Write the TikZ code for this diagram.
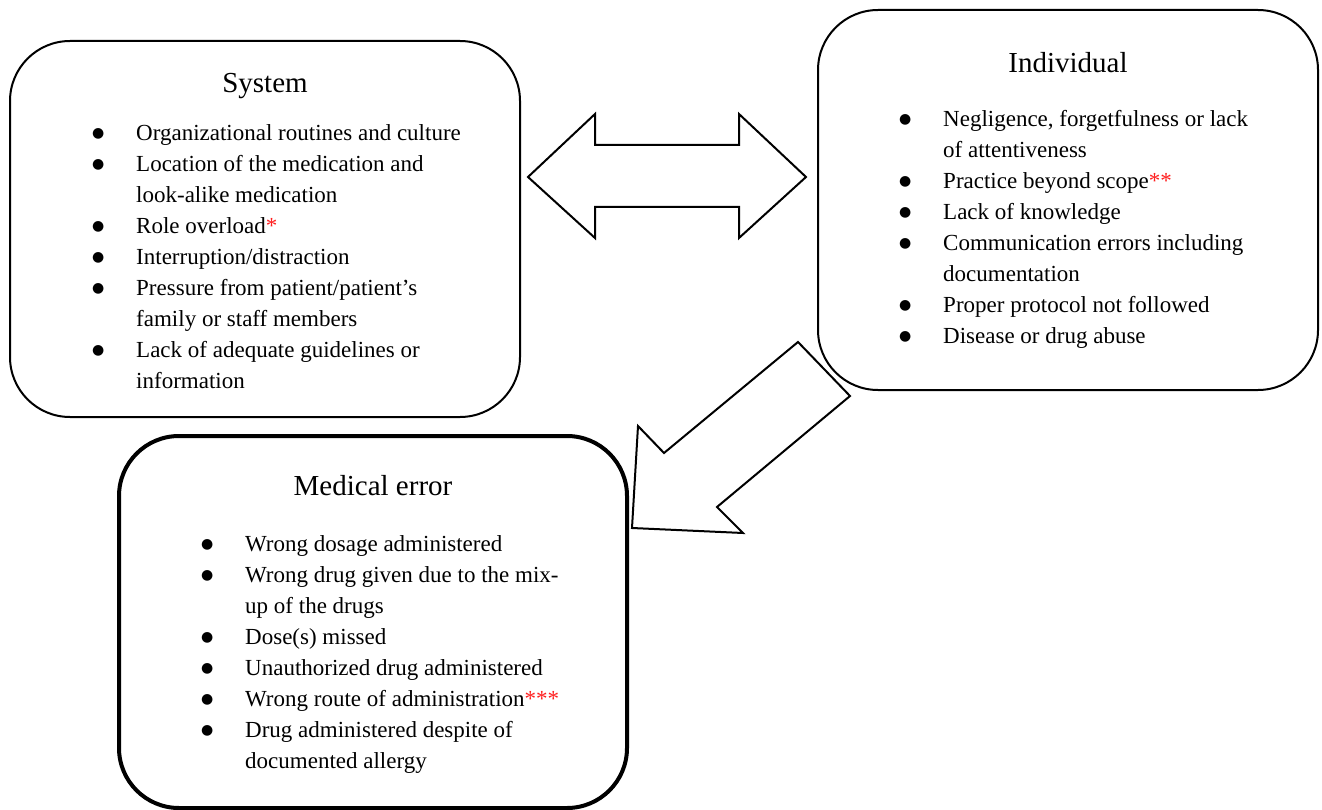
\documentclass[tikz,border=0pt]{standalone}
\usepackage{fontspec}
\setmainfont{Liberation Serif}
\newfontfamily\symfont{DejaVu Sans}
\usepackage{xcolor}
\definecolor{astred}{RGB}{255,30,30}
\newcommand\bl{\makebox[42pt][l]{\hspace{-2pt}\raisebox{3pt}{\symfont\fontsize{14}{14}\selectfont ●}}}
\newcommand\redmark[1]{\textcolor{astred}{#1}}
\tikzset{
  panel/.style={draw, line width=2pt, rounded corners=60pt, inner sep=0pt},
  thickpanel/.style={panel, line width=4pt},
  ttl/.style={anchor=base, inner sep=0pt, font=\fontsize{29}{35}\selectfont},
  lst/.style={anchor=base west, inner sep=0pt, font=\fontsize{23}{31}\selectfont},
  blockarrow/.style={draw, line width=2pt, line join=miter, fill=white}
}
\begin{document}
\begin{tikzpicture}[x=1pt, y=-1pt]
\useasboundingbox (0,0) rectangle (1322,810);
% boxes
\node[panel, minimum width=510pt, minimum height=376pt] (sys) at (265,229) {};
\node[panel, minimum width=500pt, minimum height=380pt] (ind) at (1068,200) {};
\node[thickpanel, minimum width=508pt, minimum height=372pt] (med) at (373,622) {};
% titles
\node[ttl] (systitle) at (265,93) {System};
\node[ttl] (indtitle) at (1068,73) {Individual};
\node[ttl] (medtitle) at (373,495) {Medical error};
% lists
\node[lst] (syslist) at (94,141) {\begin{tabular}[t]{@{}l@{}l@{}}
\bl & Organizational routines and culture\\
\bl & Location of the medication and\\
    & look-alike medication\\
\bl & Role overload\redmark{*}\\
\bl & Interruption/distraction\\
\bl & Pressure from patient/patient’s\\
    & family or staff members\\
\bl & Lack of adequate guidelines or\\
    & information
\end{tabular}};
\node[lst] (indlist) at (901,127) {\begin{tabular}[t]{@{}l@{}l@{}}
\bl & Negligence, forgetfulness or lack\\
    & of attentiveness\\
\bl & Practice beyond scope\redmark{**}\\
\bl & Lack of knowledge\\
\bl & Communication errors including\\
    & documentation\\
\bl & Proper protocol not followed\\
\bl & Disease or drug abuse
\end{tabular}};
\node[lst] (medlist) at (203,551) {\begin{tabular}[t]{@{}l@{}l@{}}
\bl & Wrong dosage administered\\
\bl & Wrong drug given due to the mix-\\
    & up of the drugs\\
\bl & Dose(s) missed\\
\bl & Unauthorized drug administered\\
\bl & Wrong route of administration\redmark{***}\\
\bl & Drug administered despite of\\
    & documented allergy
\end{tabular}};
% double arrow between System and Individual
\draw[blockarrow] (528,177) -- (595,114) -- (595,145) -- (739,145) -- (739,114)
  -- (806,177) -- (739,238) -- (739,207) -- (595,207) -- (595,238) -- cycle;
% block arrow from Individual to Medical error
\draw[blockarrow] (798,342) -- (850,396) -- (717,507) -- (743,533) -- (632,528)
  -- (638,426) -- (664,453) -- cycle;
\end{tikzpicture}
\end{document}
